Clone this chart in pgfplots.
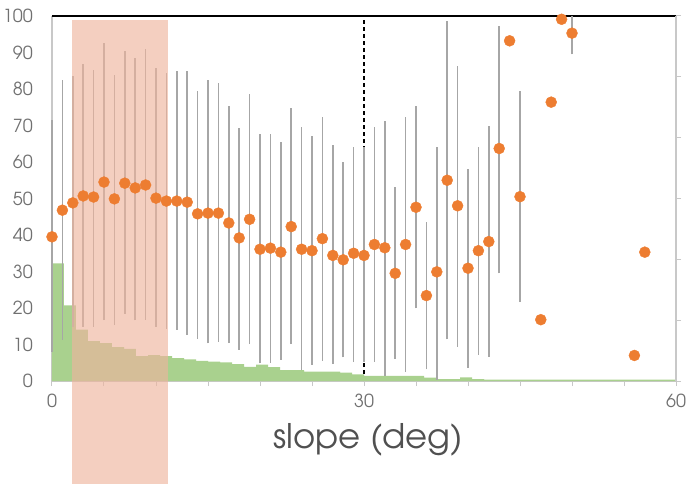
\documentclass[border=0pt]{standalone}
\usepackage{fontspec}
\IfFontExistsTF{TeX Gyre Adventor}{\setmainfont{TeX Gyre Adventor}}{\setmainfont{Poppins}}
\usepackage{pgfplots}
\pgfplotsset{compat=1.18}
\usepackage{pgfplotstable}
\definecolor{ptorange}{HTML}{ED7D31}
\definecolor{histgreen}{HTML}{A9D18E}
\definecolor{errgray}{HTML}{A6A6A6}
\definecolor{spinegray}{HTML}{C8C8C8}
\definecolor{labgray}{HTML}{707070}
\definecolor{titlegray}{HTML}{505050}
\definecolor{rectred}{RGB}{238,181,158}

\pgfplotstableread{
x y
0 39.5
1 46.8
2 48.8
3 50.7
4 50.4
5 54.5
6 49.9
7 54.2
8 52.9
9 53.7
10 50.1
11 49.3
12 49.3
13 49.0
14 45.8
15 46.0
16 46.0
17 43.3
18 39.2
19 44.3
20 36.1
21 36.4
22 35.3
23 42.3
24 36.1
25 35.7
26 39.0
27 34.4
28 33.2
29 35.0
30 34.4
31 37.4
32 36.5
33 29.5
34 37.4
35 47.6
36 23.4
37 29.9
38 55.0
39 48.0
40 30.9
41 35.7
42 38.2
43 63.7
44 93.2
45 50.5
47 16.8
48 76.4
49 99.1
50 95.3
56 7.0
57 35.3
}\pts

\pgfplotstableread{
x lo hi
0 8.0 71.5
1 11.3 82.5
2 14.9 83.6
3 14.9 86.8
4 14.9 85.2
5 16.7 92.5
6 15.3 83.9
7 18.4 90.5
8 16.6 88.6
9 16.8 90.9
10 14.8 85.8
11 14.3 84.3
12 14.0 84.8
13 12.6 84.8
14 11.5 79.5
15 10.3 82.5
16 10.8 81.6
17 10.4 75.3
18 8.5 69.2
19 10.1 78.5
20 4.8 67.6
21 5.0 67.6
22 5.8 65.4
23 10.1 74.9
24 2.9 69.5
25 4.4 67.1
26 5.6 72.4
27 4.6 64.7
28 6.5 60.1
29 5.2 64.2
30 5.2 64.0
31 5.2 69.7
32 1.4 71.2
33 6.0 53.1
34 2.4 72.4
35 19.9 75.3
36 3.2 43.6
37 0.3 64.2
38 11.4 98.6
39 9.4 86.4
40 3.6 58.0
41 7.2 64.2
42 6.6 69.9
43 29.5 97.3
45 21.6 79.5
50 89.5 100
}\bars

\pgfplotstableread{
x h
0 32.2
1.1538 20.7
2.3077 14.1
3.4615 10.9
4.6154 10.4
5.7692 9.3
6.9231 8.8
8.0769 6.8
9.2308 7.1
10.3846 6.8
11.5385 6.3
12.6923 5.9
13.8462 5.5
15.0 5.3
16.1538 5.1
17.3077 4.6
18.4615 3.9
19.6154 4.5
20.7692 3.8
21.9231 3.0
23.0769 3.0
24.2308 2.6
25.3846 2.6
26.5385 2.6
27.6923 2.3
28.8462 1.8
30.0 1.4
31.1538 1.4
32.3077 1.4
33.4615 1.4
34.6154 1.4
35.7692 0.9
36.9231 0.5
38.0769 0.5
39.2308 1.0
40.3846 0.5
41.5385 0.4
42.6923 0.4
43.8462 0.4
45.0 0.4
46.1538 0.4
47.3077 0.4
48.4615 0.4
49.6154 0.4
50.7692 0.4
51.9231 0.4
53.0769 0.4
54.2308 0.4
55.3846 0.4
56.5385 0.4
57.6923 0.4
58.8462 0.4
60 0.4
}\hist

\begin{document}
\begin{tikzpicture}
\begin{axis}[
 name=main,
 scale only axis, width=624bp, height=365bp,
 xmin=0, xmax=60, ymin=0, ymax=100,
 clip=false,
 axis x line*=bottom, axis y line*=left,
 axis line style={-, draw=spinegray, line width=1.2bp},
 xtick={0,5,...,60},
 xticklabels={0,,,,,,30,,,,,,60},
 ytick={0,10,...,100},
 yticklabels={0,10,20,30,40,50,60,70,80,90,100},
 tick align=outside,
 major tick length=5bp,
 xtick style={draw=spinegray, line width=1bp},
 ytick style={draw=none},
 ticklabel style={font=\fontsize{18}{18}\selectfont, text=labgray},
 yticklabel style={inner sep=0pt, xshift=-14bp},
 xticklabel style={inner sep=0pt, yshift=-8bp},
 xlabel={slope (deg)},
 xlabel style={font=\fontsize{34}{34}\selectfont, text=titlegray, anchor=center, at={(axis description cs:0.507,-0.162)}},
]
\addplot[black, line width=1.2bp, dash pattern=on 4bp off 3bp, forget plot] coordinates {(30,0) (30,100)};
\draw[black, line width=1.8bp] (axis cs:0,100) -- (axis cs:60,100);
\addplot[ybar interval, fill=histgreen, draw=none] table[x=x, y=h] {\hist};
\addplot[draw=none, mark=none, error bars/.cd, y dir=plus, y explicit, error mark=none,
  error bar style={draw=errgray, line width=1.5bp}]
  table[x=x, y=lo, y error expr=\thisrow{hi}-\thisrow{lo}] {\bars};
\addplot[only marks, mark=*, mark size=5.5bp, mark options={draw=ptorange, fill=ptorange}] table[x=x, y=y] {\pts};
\fill[rectred, opacity=0.65] (axis cs:1.92,98.9) rectangle (axis cs:11.15,-28.2);
\end{axis}
\begin{axis}[
 scale only axis, width=624bp, height=365bp,
 xmin=0, xmax=60, ymin=0, ymax=6,
 axis x line=none, axis y line*=right,
 axis line style={-, draw=spinegray, line width=1.2bp},
 ytick={0,1,...,6}, yticklabels={},
 tick align=outside, major tick length=5bp,
 ytick style={draw=spinegray, line width=1bp},
]
\end{axis}
\pgfresetboundingbox
\path ([shift={(-52bp,-103bp)}]main.south west) rectangle ([shift={(12bp,16bp)}]main.north east);
\end{tikzpicture}
\end{document}
